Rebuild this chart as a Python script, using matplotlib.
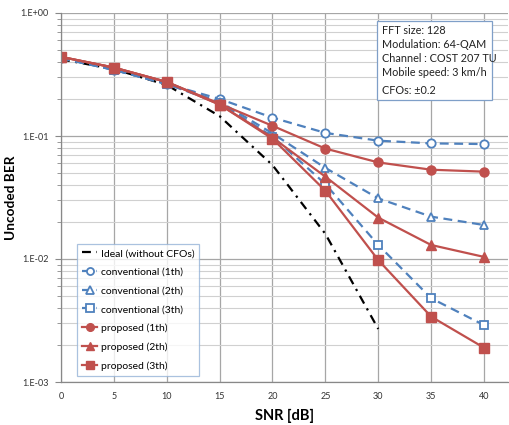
import matplotlib
matplotlib.use("Agg")
import matplotlib.pyplot as plt
from matplotlib.patches import Rectangle
from matplotlib.ticker import FixedLocator, FixedFormatter, LogLocator, NullFormatter

plt.rcParams['font.family'] = ['Lato', 'DejaVu Sans']

snr = [0, 5, 10, 15, 20, 25, 30, 35, 40]
snr_ideal = [0, 5, 10, 15, 20, 25, 30]
ideal = [0.42, 0.35, 0.26, 0.145, 0.058, 0.016, 0.0027]
conv1 = [0.43, 0.345, 0.265, 0.20, 0.141, 0.106, 0.0916, 0.0871, 0.086]
conv2 = [0.43, 0.345, 0.265, 0.19, 0.105, 0.055, 0.0311, 0.0221, 0.0189]
conv3 = [0.43, 0.345, 0.265, 0.185, 0.099, 0.0407, 0.013, 0.0048, 0.0029]
prop1 = [0.44, 0.36, 0.275, 0.183, 0.121, 0.079, 0.061, 0.0532, 0.0513]
prop2 = [0.44, 0.36, 0.275, 0.18, 0.097, 0.0467, 0.0217, 0.013, 0.0104]
prop3 = [0.44, 0.36, 0.275, 0.18, 0.095, 0.0359, 0.0098, 0.0034, 0.0019]

labels = ['Ideal (without CFOs)', 'conventional (1th)', 'conventional (2th)',
          'conventional (3th)', 'proposed (1th)', 'proposed (2th)', 'proposed (3th)']
ytick_vals = [1e-3, 1e-2, 1e-1, 1e0]
ytick_labels = ['1.E-03', '1.E-02', '1.E-01', '1.E+00']
xtick_vals = [0, 5, 10, 15, 20, 25, 30, 35, 40]
info_lines = ["FFT size: 128", "Modulation: 64-QAM", "Channel : COST 207 TU",
              "Mobile speed: 3 km/h", "CFOs: \u00b10.2"]

blue = '#4F81BD'
red = '#C0504D'

fig = plt.figure(figsize=(5.1, 4.25), dpi=100)
ax = fig.add_axes([61/510, 1-382/425, (508-61)/510, (382-13)/425])

ax.plot(snr_ideal, ideal, color='black', lw=1.6, linestyle=(0, (4, 2.5, 1, 2.5)), label=labels[0])
mk = dict(markersize=6, markerfacecolor='white', markeredgewidth=1.3)
ax.plot(snr, conv1, color=blue, lw=1.6, ls=(0, (4, 2.5)), marker='o', label=labels[1], **mk)
ax.plot(snr, conv2, color=blue, lw=1.6, ls=(0, (4, 2.5)), marker='^', label=labels[2], **mk)
ax.plot(snr, conv3, color=blue, lw=1.6, ls=(0, (4, 2.5)), marker='s', label=labels[3], **mk)
ax.plot(snr, prop1, color=red, lw=1.6, marker='o', markersize=6.5, label=labels[4])
ax.plot(snr, prop2, color=red, lw=1.6, marker='^', markersize=6.5, label=labels[5])
ax.plot(snr, prop3, color=red, lw=1.6, marker='s', markersize=6.5, label=labels[6])

ax.set_yscale('log')
ax.set_ylim(1e-3, 1e0)
ax.set_xlim(0, 42.27)
ax.yaxis.set_major_locator(FixedLocator(ytick_vals))
ax.yaxis.set_major_formatter(FixedFormatter(ytick_labels))
ax.yaxis.set_minor_locator(LogLocator(base=10, subs=range(2, 10)))
ax.yaxis.set_minor_formatter(NullFormatter())
ax.set_xticks(xtick_vals)
ax.set_xticklabels([str(v) for v in xtick_vals])

ax.grid(True, which='major', axis='x', color='#A6A6A6', lw=0.9)
ax.grid(True, which='major', axis='y', color='#A6A6A6', lw=0.9)
ax.grid(True, which='minor', axis='y', color='#D0D0D0', lw=0.8)
ax.set_axisbelow(True)

for s in ['top', 'right']:
    ax.spines[s].set_visible(False)
for s in ['left', 'bottom']:
    ax.spines[s].set_color('#888888')
    ax.spines[s].set_linewidth(0.9)

ax.tick_params(axis='y', which='major', length=4, color='#888888', labelsize=6.5, labelcolor='#333333', pad=5)
ax.tick_params(axis='y', which='minor', length=3, color='#888888')
ax.tick_params(axis='x', which='major', length=0, labelsize=6.5, labelcolor='#333333', pad=7)

ax.set_ylabel('Uncoded BER', fontsize=9.8, fontweight='bold')
ax.yaxis.set_label_coords((17-61)/447, 0.5)
ax.set_xlabel('SNR [dB]', fontsize=10.5, fontweight='bold', labelpad=6)

leg = ax.legend(loc='upper left', bbox_to_anchor=((74-61)/447, (382-241)/369),
                fontsize=7.5, frameon=True, fancybox=False, edgecolor='#95B3D7',
                handlelength=1.5, handletextpad=0.3, labelspacing=0.9, borderpad=0.45,
                borderaxespad=0.3, markerscale=0.85)
leg.get_frame().set_linewidth(0.9)
leg.set_zorder(5)

# info box
bx0, bx1, by0, by1 = 377, 492, 21, 100
ax.add_patch(Rectangle(((bx0-61)/447, (382-by1)/369), (bx1-bx0)/447, (by1-by0)/369,
                       transform=ax.transAxes, facecolor='white', edgecolor='#7F9FC8',
                       lw=0.9, zorder=6))
line_y = [31, 45, 58, 72, 90]
for txt, yy in zip(info_lines, line_y):
    ax.text((382-61)/447, (382-yy)/369, txt, transform=ax.transAxes, fontsize=7.8,
            va='center', ha='left', zorder=7, color='#222222')

fig.savefig('out.png', dpi=100)
